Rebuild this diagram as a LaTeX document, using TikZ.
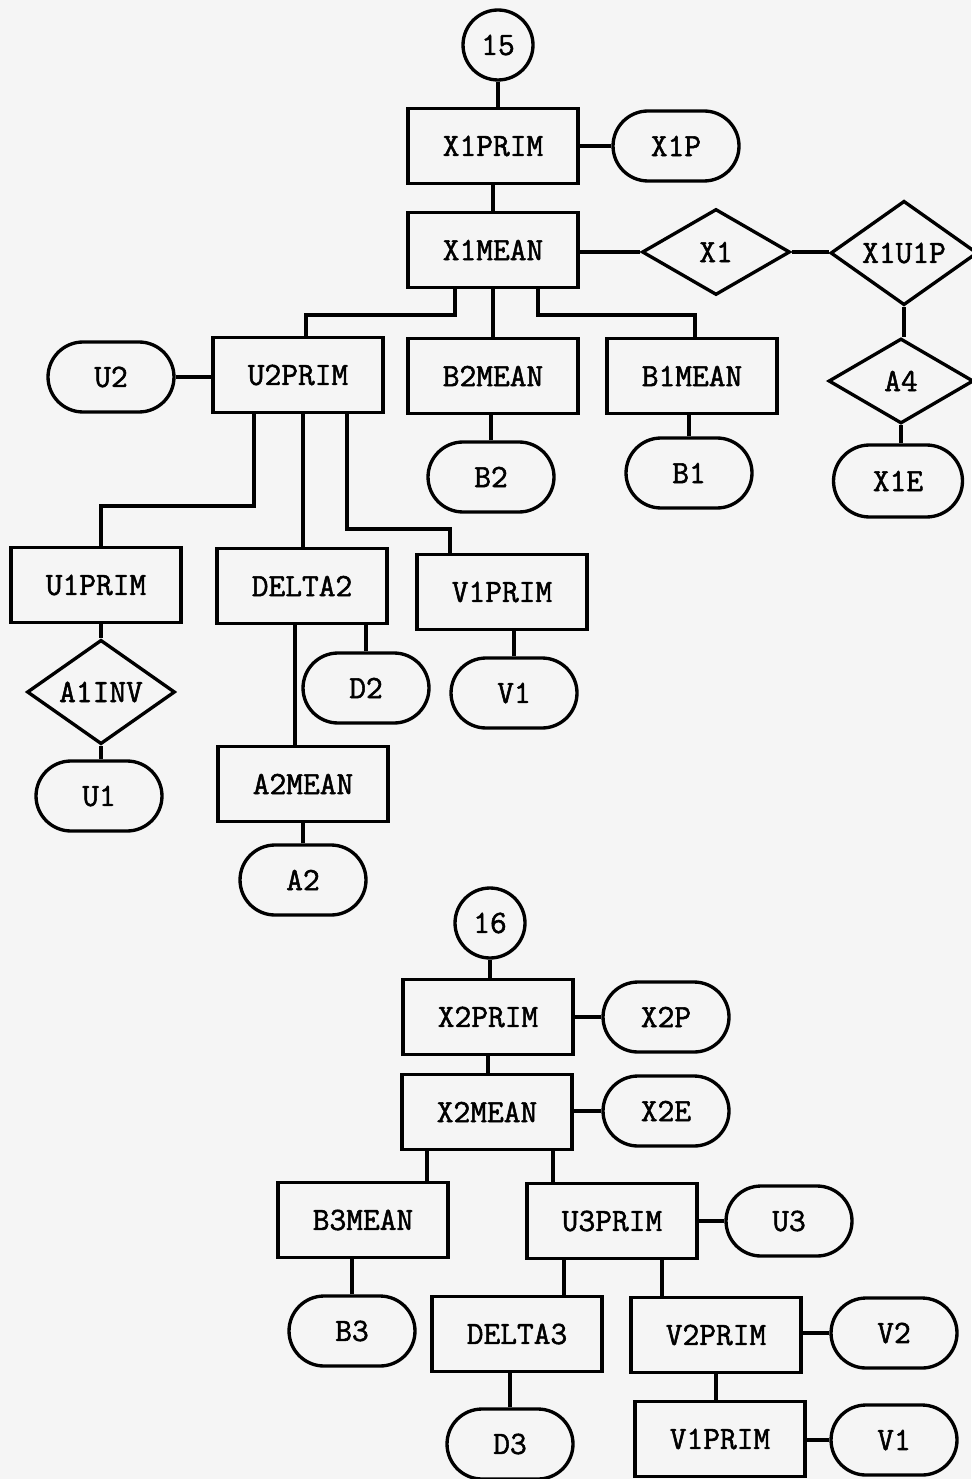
\documentclass[tikz,border=0pt]{standalone}
\usepackage{fontspec}
\newfontfamily\tw{Latin Modern Mono}[FakeBold=1.6]
\usetikzlibrary{shapes.geometric,shapes.misc,calc}
\begin{document}
\begin{tikzpicture}[x=0.02cm,y=-0.02cm,
  every node/.style={font=\tw\fontsize{18.5}{20}\selectfont, line width=1.9pt, draw=black, inner sep=0pt},
  box/.style={rectangle, minimum width=3.4cm, minimum height=1.5cm},
  term/.style={rounded rectangle, minimum width=2.52cm, minimum height=1.4cm},
  dia/.style={diamond, minimum width=2.96cm, minimum height=1.72cm},
  conn/.style={circle, minimum size=1.4cm},
  ln/.style={line width=1.9pt, draw=black}]
\fill[black!4] (0,0) rectangle (971,1479);
\useasboundingbox (0,0) rectangle (971,1479);
% upper chart
\node[conn] (c15) at (498,45) {15};
\node[box] (xprim) at (493,146) {X1PRIM};
\node[term] (x1p) at (676,146) {X1P};
\node[box] (xmean) at (493,250) {X1MEAN};
\node[dia] (x1) at (716,252) {X1};
\node[dia, minimum width=2.94cm] (x1u1p) at (904,253) {X1U1P};
\node[dia, minimum width=2.9cm, minimum height=1.7cm] (a4) at (901,381) {A4};
\node[term, minimum width=2.58cm, minimum height=1.44cm] (x1e) at (898,481) {X1E};
\node[term] (u2) at (111,377) {U2};
\node[box] (u2prim) at (298,375) {U2PRIM};
\node[box] (b2mean) at (493,376) {B2MEAN};
\node[term] (b2) at (491,477) {B2};
\node[box] (b1mean) at (692,376) {B1MEAN};
\node[term] (b1) at (689,473) {B1};
\node[box] (u1prim) at (96,585) {U1PRIM};
\node[box] (delta2) at (302,586) {DELTA2};
\node[box] (v1prima) at (502,592) {V1PRIM};
\node[dia] (a1inv) at (101,692) {A1INV};
\node[term] (u1) at (99,796) {U1};
\node[term] (d2) at (366,688) {D2};
\node[term] (v1a) at (514,693) {V1};
\node[box] (a2mean) at (303,784) {A2MEAN};
\node[term] (a2) at (303,880) {A2};
% lower chart
\node[conn] (c16) at (490,923) {16};
\node[box] (x2prim) at (488,1017) {X2PRIM};
\node[term] (x2p) at (666,1017) {X2P};
\node[box] (x2mean) at (487,1112) {X2MEAN};
\node[term] (x2e) at (666,1111) {X2E};
\node[box] (b3mean) at (363,1220) {B3MEAN};
\node[box] (u3prim) at (612,1221) {U3PRIM};
\node[term] (u3) at (789,1221) {U3};
\node[term] (b3) at (352,1331) {B3};
\node[box] (delta3) at (517,1334) {DELTA3};
\node[box] (v2prim) at (716,1335) {V2PRIM};
\node[term] (v2) at (894,1333) {V2};
\node[term] (d3) at (510,1444) {D3};
\node[box] (v1primb) at (720,1439) {V1PRIM};
\node[term] (v1b) at (894,1440) {V1};
% connectors upper
\draw[ln] (c15.south) -- (c15.south |- xprim.north);
\draw[ln] (xprim.east) -- (x1p.west);
\draw[ln] (xprim.south) -- (xmean.north);
\draw[ln] (x1.west) -- (x1.west -| xmean.east);
\draw[ln] (x1.east) -- (x1.east -| x1u1p.west);
\draw[ln] (x1u1p.south) -- (x1u1p.south |- a4.north);
\draw[ln] (a4.south) -- (a4.south |- x1e.north);
\draw[ln] ($(xmean.south)+(-38,0)$) -- ++(0,26) -| ($(u2prim.north)+(8,0)$);
\draw[ln] (xmean.south) -- (b2mean.north);
\draw[ln] ($(xmean.south)+(45,0)$) -- ++(0,26) -| ($(b1mean.north)+(3,0)$);
\draw[ln] (u2.east) -- (u2.east -| u2prim.west);
\draw[ln] (b2.north) -- (b2.north |- b2mean.south);
\draw[ln] (b1.north) -- (b1.north |- b1mean.south);
\draw[ln] ($(u2prim.south)+(-44,0)$) -- ++(0,92) -| ($(u1prim.north)+(5,0)$);
\coordinate (d2top) at ($(u2prim.south)+(5,0)$);
\draw[ln] (d2top) -- (d2top |- delta2.north);
\draw[ln] ($(u2prim.south)+(49,0)$) -- ++(0,115) -| ($(v1prima.north)+(-52,0)$);
\draw[ln] (a1inv.north) -- (a1inv.north |- u1prim.south);
\draw[ln] (a1inv.south) -- (a1inv.south |- u1.north);
\coordinate (a2top) at ($(delta2.south)+(-7,0)$);
\draw[ln] (a2top) -- (a2top |- a2mean.north);
\draw[ln] (d2.north) -- (d2.north |- delta2.south);
\draw[ln] (v1a.north) -- (v1a.north |- v1prima.south);
\draw[ln] (a2.north) -- (a2.north |- a2mean.south);
% connectors lower
\draw[ln] (c16.south) -- (c16.south |- x2prim.north);
\draw[ln] (x2p.west) -- (x2p.west -| x2prim.east);
\draw[ln] (x2prim.south) -- (x2prim.south |- x2mean.north);
\draw[ln] (x2e.west) -- (x2e.west -| x2mean.east);
\coordinate (xb3) at ($(x2mean.south)+(-60,0)$);
\draw[ln] (xb3) -- (xb3 |- b3mean.north);
\coordinate (xu3) at ($(x2mean.south)+(66,0)$);
\draw[ln] (xu3) -- (xu3 |- u3prim.north);
\draw[ln] (u3.west) -- (u3.west -| u3prim.east);
\draw[ln] (b3.north) -- (b3.north |- b3mean.south);
\coordinate (ud3) at ($(u3prim.south)+(-48,0)$);
\draw[ln] (ud3) -- (ud3 |- delta3.north);
\coordinate (uv2) at ($(u3prim.south)+(50,0)$);
\draw[ln] (uv2) -- (uv2 |- v2prim.north);
\draw[ln] (d3.north) -- (d3.north |- delta3.south);
\draw[ln] (v2.west) -- (v2.west -| v2prim.east);
\draw[ln] (v2prim.south) -- (v2prim.south |- v1primb.north);
\draw[ln] (v1b.west) -- (v1b.west -| v1primb.east);
\end{tikzpicture}
\end{document}
